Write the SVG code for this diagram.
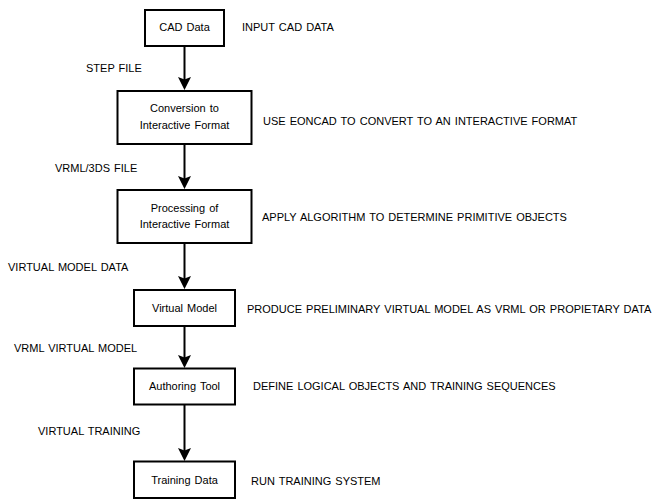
<svg xmlns="http://www.w3.org/2000/svg" width="664" height="500" viewBox="0 0 664 500">
  <style>
    text { font-family: "Liberation Sans", Arial, sans-serif; font-size: 11px; fill: #000; word-spacing: 1px; }
    .node rect { fill: #fff; stroke: #000; stroke-width: 2; }
    .node text { text-anchor: middle; }
    .conn line { stroke: #000; stroke-width: 2; fill: none; }
  </style>
  <defs>
    <marker id="arrow" viewBox="0 -7 14 14" refX="5" refY="0" markerWidth="14" markerHeight="14" markerUnits="userSpaceOnUse" orient="auto">
      <path d="M0,-6.5 L13,0 L0,6.5 L2.5,0 Z" fill="#000"/>
    </marker>
  </defs>
  <rect width="664" height="500" fill="#fff"/>

  <!-- connectors -->
  <g id="connectors" class="conn">
    <line x1="184.5" y1="46" x2="184.5" y2="82" marker-end="url(#arrow)"/>
    <line x1="184.5" y1="144" x2="184.5" y2="181" marker-end="url(#arrow)"/>
    <line x1="184.5" y1="243" x2="184.5" y2="281" marker-end="url(#arrow)"/>
    <line x1="184.5" y1="326" x2="184.5" y2="360" marker-end="url(#arrow)"/>
    <line x1="184.5" y1="405" x2="184.5" y2="453" marker-end="url(#arrow)"/>
  </g>

  <!-- process boxes -->
  <g id="cad-data" class="node">
    <rect x="145" y="10" width="79" height="36"/>
    <text x="184.5" y="31">CAD Data</text>
  </g>
  <g id="conversion" class="node">
    <rect x="117.5" y="91" width="134" height="53"/>
    <text x="184.5" y="112">Conversion to</text>
    <text x="184.5" y="129">Interactive Format</text>
  </g>
  <g id="processing" class="node">
    <rect x="117.5" y="190" width="134" height="53"/>
    <text x="184.5" y="212">Processing of</text>
    <text x="184.5" y="228">Interactive Format</text>
  </g>
  <g id="virtual-model" class="node">
    <rect x="134" y="290" width="101" height="36"/>
    <text x="184.5" y="312">Virtual Model</text>
  </g>
  <g id="authoring-tool" class="node">
    <rect x="134" y="368.5" width="101" height="36"/>
    <text x="184.5" y="390">Authoring Tool</text>
  </g>
  <g id="training-data" class="node">
    <rect x="134" y="461.5" width="101" height="36.5"/>
    <text x="184.5" y="484">Training Data</text>
  </g>

  <!-- data passed between steps -->
  <g id="edge-labels">
    <text x="86" y="72">STEP FILE</text>
    <text x="55" y="172">VRML/3DS FILE</text>
    <text x="8" y="271">VIRTUAL MODEL DATA</text>
    <text x="14" y="352">VRML VIRTUAL MODEL</text>
    <text x="38" y="435">VIRTUAL TRAINING</text>
  </g>

  <!-- step descriptions -->
  <g id="descriptions">
    <text x="242" y="31">INPUT CAD DATA</text>
    <text x="263" y="125">USE EONCAD TO CONVERT TO AN INTERACTIVE FORMAT</text>
    <text x="262" y="221">APPLY ALGORITHM TO DETERMINE PRIMITIVE OBJECTS</text>
    <text x="247" y="313">PRODUCE PRELIMINARY VIRTUAL MODEL AS VRML OR PROPIETARY DATA</text>
    <text x="253" y="390">DEFINE LOGICAL OBJECTS AND TRAINING SEQUENCES</text>
    <text x="251" y="485">RUN TRAINING SYSTEM</text>
  </g>
</svg>
